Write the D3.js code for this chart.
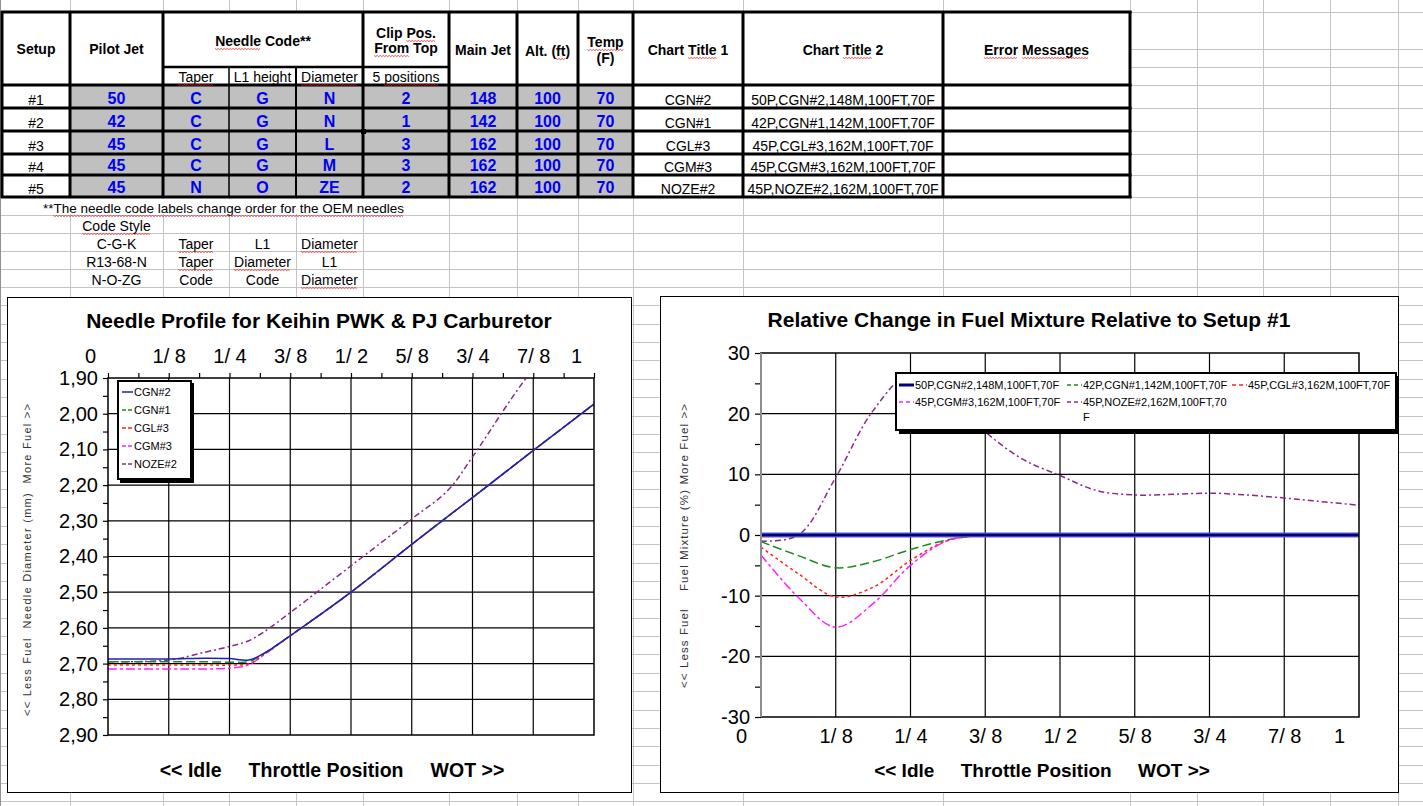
<!DOCTYPE html>
<html>
<head>
<meta charset="utf-8">
<script src="https://cdn.jsdelivr.net/npm/d3@7"></script>
<style>
  body { margin: 0; background: #fff; }
  svg text { font-family: "Liberation Sans", Arial, sans-serif; }
</style>
</head>
<body>
<svg id="sheet" width="1423" height="806"></svg>
<script>
// ---- table data ----
var setups = ["#1", "#2", "#3", "#4", "#5"];
var pilotJet = [50, 42, 45, 45, 45];
var taper = ["C", "C", "C", "C", "N"];
var l1Height = ["G", "G", "G", "G", "O"];
var diameter = ["N", "N", "L", "M", "ZE"];
var clipPos = [2, 1, 3, 3, 2];
var mainJet = [148, 142, 162, 162, 162];
var altFt = [100, 100, 100, 100, 100];
var tempF = [70, 70, 70, 70, 70];
var chartTitle1 = ["CGN#2", "CGN#1", "CGL#3", "CGM#3", "NOZE#2"];
var chartTitle2 = ["50P,CGN#2,148M,100FT,70F", "42P,CGN#1,142M,100FT,70F", "45P,CGL#3,162M,100FT,70F",
                   "45P,CGM#3,162M,100FT,70F", "45P,NOZE#2,162M,100FT,70F"];
var codeStyles = [["C-G-K", "Taper", "L1", "Diameter"],
                  ["R13-68-N", "Taper", "Diameter", "L1"],
                  ["N-O-ZG", "Code", "Code", "Diameter"]];

// ---- chart data ----
var throttleLabels = ["0", "1/ 8", "1/ 4", "3/ 8", "1/ 2", "5/ 8", "3/ 4", "7/ 8", "1"];
var needleX    = [0, 0.125, 0.2, 0.25, 0.29, 0.32, 0.375, 0.5, 0.625, 0.7, 0.75, 0.875, 1];
var needleCGN2 = [2.687, 2.687, 2.685, 2.686, 2.690, 2.672, 2.622, 2.50, 2.366, 2.287, 2.235, 2.103, 1.973];
var needleCGN1 = [2.695, 2.695, 2.695, 2.696, 2.694, 2.672, 2.622, 2.50, 2.366, 2.287, 2.235, 2.103, 1.973];
var needleCGL3 = [2.704, 2.704, 2.704, 2.704, 2.700, 2.675, 2.622, 2.50, 2.366, 2.287, 2.235, 2.103, 1.973];
var needleCGM3 = [2.715, 2.715, 2.715, 2.713, 2.703, 2.676, 2.622, 2.50, 2.366, 2.287, 2.235, 2.103, 1.973];
var needleNOZE2= [2.695, 2.690, 2.668, 2.652, 2.636, 2.612, 2.557, 2.426, 2.295, 2.214, 2.121, 1.875, 1.70];

var mixX     = [0, 1/16, 1/8, 3/16, 1/4, 5/16, 3/8, 7/16, 1/2, 9/16, 5/8, 11/16, 3/4, 13/16, 7/8, 15/16, 1];
var mixCGN2  = [0, 0, 0, 0, 0, 0, 0, 0, 0, 0, 0, 0, 0, 0, 0, 0, 0];
var mixCGN1  = [-1.1, -3.4, -5.4, -4.4, -2.4, -0.8, 0, 0, 0, 0, 0, 0, 0, 0, 0, 0, 0];
var mixCGL3  = [-2.0, -6.4, -10.2, -8.6, -4.2, -0.9, 0, 0, 0, 0, 0, 0, 0, 0, 0, 0, 0];
var mixCGM3  = [-3.3, -10.3, -15.2, -11.3, -5.0, -0.9, 0, 0, 0, 0, 0, 0, 0, 0, 0, 0, 0];
var mixNOZE2 = [-1.0, 0.0, 9.5, 20.5, 26.5, 23, 17, 12.5, 9.8, 7.3, 6.6, 6.7, 6.9, 6.6, 6.1, 5.5, 4.9];

var sheet = d3.select("#sheet");

// ---- spreadsheet grid ----
var colLines = [70, 163, 229, 296, 363, 449, 517, 578, 633, 743, 943, 1130, 1197, 1263, 1330, 1398];
var rowLines = [12, 49, 67, 85, 108, 131, 154, 175, 197, 215, 233, 251, 269, 287].concat(d3.range(287 + 18.37, 806, 18.37));

var grid = sheet.append("g").attr("stroke", "#c4c4c4").attr("stroke-width", 1);
grid.selectAll(".gc").data(colLines).enter().append("line")
    .attr("x1", function(d) { return d + 0.5; }).attr("x2", function(d) { return d + 0.5; })
    .attr("y1", 0).attr("y2", 806);
grid.selectAll(".gr").data(rowLines).enter().append("line")
    .attr("y1", function(d) { return Math.round(d) + 0.5; }).attr("y2", function(d) { return Math.round(d) + 0.5; })
    .attr("x1", 0).attr("x2", 1423);
sheet.append("line").attr("x1", 0.5).attr("x2", 0.5).attr("y1", 0).attr("y2", 806).attr("stroke", "#909090");

// ---- table ----
var tcols = [2, 70, 163, 229, 296, 363, 449, 517, 578, 633, 743, 943, 1130];
var trows = [85, 108, 131, 154, 175, 197];
function cx(c) { return (tcols[c] + tcols[c + 1]) / 2; }

var table = sheet.append("g");
table.append("rect").attr("x", 2).attr("y", 12).attr("width", 1128).attr("height", 185).attr("fill", "#fff");
// cover the footnote row so its text overflows the cells like in the sheet
sheet.append("rect").attr("x", 2).attr("y", 199).attr("width", 446).attr("height", 15).attr("fill", "#fff");

var squiggleWords = [];
function txt(g, s, x, y, opt) {
    opt = opt || {};
    var t = g.append("text").attr("x", x).attr("y", y)
        .attr("text-anchor", opt.anchor || "middle")
        .attr("font-size", opt.size || 14)
        .attr("font-weight", opt.bold ? "bold" : "normal")
        .attr("fill", opt.color || "#000")
        .text(s);
    if (opt.sq) opt.sq.forEach(function(w) { squiggleWords.push([t, w]); });
    return t;
}

// header
txt(table, "Setup", cx(0), 54, {bold: true});
txt(table, "Pilot Jet", cx(1), 54, {bold: true});
txt(table, "Needle Code**", (tcols[2] + tcols[5]) / 2, 46, {bold: true, sq: ["Needle"]});
txt(table, "Clip Pos.", cx(5), 38, {bold: true, sq: ["Pos."]});
txt(table, "From Top", cx(5), 53, {bold: true, sq: ["From"]});
txt(table, "Main Jet", cx(6), 55, {bold: true});
txt(table, "Alt. (ft)", cx(7), 56, {bold: true, sq: ["ft"]});
txt(table, "Temp", cx(8), 47, {bold: true, sq: ["Temp"]});
txt(table, "(F)", cx(8), 63, {bold: true});
txt(table, "Chart Title 1", cx(9), 55, {bold: true, sq: ["Title"]});
txt(table, "Chart Title 2", cx(10), 55, {bold: true, sq: ["Title"]});
txt(table, "Error Messages", cx(11), 55, {bold: true, sq: ["Error", "Messages"]});
txt(table, "Taper", cx(2), 82, {sq: ["Taper"]});
txt(table, "L1 height", cx(3), 82);
txt(table, "Diameter", cx(4), 82, {sq: ["Diameter"]});
txt(table, "5 positions", cx(5), 82, {sq: ["positions"]});

// data rows
var rowValues = [pilotJet, taper, l1Height, diameter, clipPos, mainJet, altFt, tempF];
setups.forEach(function(s, i) {
    var y0 = trows[i], y1 = trows[i + 1];
    table.append("rect").attr("x", tcols[1]).attr("y", y0).attr("width", tcols[9] - tcols[1])
        .attr("height", y1 - y0).attr("fill", "#c0c0c0");
    txt(table, s, cx(0), y1 - 3);
    rowValues.forEach(function(arr, c) {
        txt(table, arr[i], cx(c + 1), y1 - 4, {bold: true, size: 16, color: "#0000f0"});
    });
    txt(table, chartTitle1[i], cx(9), y1 - 3);
    txt(table, chartTitle2[i], cx(10), y1 - 3);
});

// borders
var thick = table.append("g").attr("stroke", "#000");
[12, 85, 108, 131, 154, 175, 197].forEach(function(y) {
    thick.append("line").attr("x1", 1).attr("x2", 1131.5).attr("y1", y).attr("y2", y).attr("stroke-width", 3);
});
thick.append("line").attr("x1", 163).attr("x2", 449).attr("y1", 67).attr("y2", 67).attr("stroke-width", 2.5);
[2, 70, 163, 363, 449, 517, 578, 633, 743, 943, 1130].forEach(function(x) {
    thick.append("line").attr("x1", x).attr("x2", x).attr("y1", 11).attr("y2", 198).attr("stroke-width", 3);
});
thick.append("line").attr("x1", 229).attr("x2", 229).attr("y1", 67).attr("y2", 197).attr("stroke-width", 1.5);
thick.append("line").attr("x1", 296).attr("x2", 296).attr("y1", 67).attr("y2", 197).attr("stroke-width", 2);
table.append("rect").attr("x", 361).attr("y", 129).attr("width", 5).attr("height", 5).attr("fill", "#000");

// footnote & code styles
txt(sheet, "**The needle code labels change order for the OEM needles", 43, 213,
    {anchor: "start", size: 13.5, sq: ["The needle code labels change order for the OEM needles"]});
txt(sheet, "Code Style", cx(1), 231, {sq: ["Code Style"]});
codeStyles.forEach(function(r, i) {
    r.forEach(function(s, c) {
        txt(sheet, s, cx(c + 1), 249 + i * 18, {sq: (s === "Taper" || s === "Diameter") ? [s] : []});
    });
});

// ---- shared helpers for charts ----
function chartBox(x, y, w, h) {
    sheet.append("rect").attr("x", x + 0.5).attr("y", y + 0.5).attr("width", w).attr("height", h)
        .attr("fill", "#fff").attr("stroke", "#000").attr("stroke-width", 1);
}
function styleAxis(g, size) {
    g.select(".domain").remove();
    g.selectAll(".tick line").attr("stroke", "#000").attr("stroke-width", 1.2);
    g.selectAll(".tick text").attr("font-size", size).attr("fill", "#000")
        .attr("font-family", "\"Liberation Sans\", Arial, sans-serif");
}
var nb = "\u00a0";
var throttleTitle = "<<" + nb + "Idle" + nb.repeat(5) + "Throttle" + nb + "Position" + nb.repeat(5) + "WOT" + nb + ">>";

// ================= left chart: needle profile =================
chartBox(7, 297, 624, 495);
var nx = d3.scaleLinear().domain([0, 1]).range([108, 594]);
var ny = d3.scaleLinear().domain([1.9, 2.9]).range([378, 735]);
var left = sheet.append("g");

left.append("g").selectAll("line").data(d3.range(1, 8).map(function(i) { return i / 8; })).enter().append("line")
    .attr("x1", nx).attr("x2", nx).attr("y1", ny(1.9)).attr("y2", ny(2.9))
    .attr("stroke", "#000").attr("stroke-width", 1.2);
left.append("g").selectAll("line").data(d3.range(1, 10).map(function(i) { return 1.9 + i / 10; })).enter().append("line")
    .attr("y1", ny).attr("y2", ny).attr("x1", nx(0)).attr("x2", nx(1))
    .attr("stroke", "#000").attr("stroke-width", 1.2);

var axT = left.append("g").attr("transform", "translate(0," + ny(1.9) + ")")
    .call(d3.axisTop(nx).tickValues(d3.range(0, 17).map(function(i) { return i / 16; }))
        .tickSize(5).tickPadding(10)
        .tickFormat(function(d, i) { return i % 2 === 0 ? throttleLabels[i / 2] : ""; }));
styleAxis(axT, 20);
axT.selectAll(".tick text").filter(function(d) { return d === 0 || d === 1; }).attr("dx", -18);

var axL = left.append("g").attr("transform", "translate(" + nx(0) + ",0)")
    .call(d3.axisLeft(ny).tickValues(d3.range(0, 21).map(function(i) { return 1.9 + i * 0.05; }))
        .tickSize(5).tickPadding(5)
        .tickFormat(function(d, i) { return i % 2 === 0 ? d3.format(".2f")(d).replace(".", ",") : ""; }));
styleAxis(axL, 20);

var clip = sheet.append("clipPath").attr("id", "needleClip");
clip.append("rect").attr("x", nx(0)).attr("y", ny(1.9)).attr("width", nx(1) - nx(0)).attr("height", ny(2.9) - ny(1.9));

var needleSeries = [
    {name: chartTitle1[0], values: needleCGN2, color: "#2020b8", dash: null},
    {name: chartTitle1[1], values: needleCGN1, color: "#1a8a1a", dash: "9,4"},
    {name: chartTitle1[2], values: needleCGL3, color: "#ff2020", dash: "3,3"},
    {name: chartTitle1[3], values: needleCGM3, color: "#ff20ff", dash: "9,3,3,3"},
    {name: chartTitle1[4], values: needleNOZE2, color: "#862c86", dash: "6,3,2,3"}
];
var needleLine = d3.line()
    .x(function(d) { return nx(d[0]); }).y(function(d) { return ny(d[1]); })
    .curve(d3.curveCatmullRom.alpha(0.5));
needleSeries.slice().reverse().forEach(function(s) {
    left.append("path").attr("clip-path", "url(#needleClip)")
        .attr("d", needleLine(d3.zip(needleX, s.values)))
        .attr("fill", "none").attr("stroke", s.color).attr("stroke-width", 1.5)
        .attr("stroke-dasharray", s.dash);
});
left.append("rect").attr("x", nx(0)).attr("y", ny(1.9)).attr("width", nx(1) - nx(0)).attr("height", ny(2.9) - ny(1.9))
    .attr("fill", "none").attr("stroke", "#000").attr("stroke-width", 1.5);

// left legend
var lg = left.append("g");
lg.append("rect").attr("x", 120).attr("y", 383).attr("width", 74).attr("height", 100).attr("fill", "#000");
lg.append("rect").attr("x", 118).attr("y", 381).attr("width", 73).attr("height", 98)
    .attr("fill", "#fff").attr("stroke", "#000").attr("stroke-width", 2);
needleSeries.forEach(function(s, i) {
    var y = 392 + i * 18;
    lg.append("line").attr("x1", 122).attr("x2", 133).attr("y1", y).attr("y2", y)
        .attr("stroke", s.color).attr("stroke-width", 1.5).attr("stroke-dasharray", s.dash ? "4,2" : null);
    txt(lg, s.name, 134, y + 4, {anchor: "start", size: 11});
});

// titles
txt(left, "Needle Profile for Keihin PWK & PJ Carburetor", 319, 328, {bold: true, size: 21});
txt(left, throttleTitle, 332, 777, {bold: true, size: 19.5});
left.append("text").attr("transform", "translate(31,560) rotate(-90)")
    .attr("text-anchor", "middle").attr("font-size", 11).attr("fill", "#333")
    .attr("textLength", 312).attr("lengthAdjust", "spacing")
    .text("<<" + nb + "Less" + nb + "Fuel" + nb + nb + "Needle" + nb + "Diameter" + nb + "(mm)" + nb + nb + "More" + nb + "Fuel" + nb + ">>");

// ================= right chart: relative change =================
chartBox(660, 296, 738, 496);
var mx = d3.scaleLinear().domain([0, 1]).range([761, 1359]);
var my = d3.scaleLinear().domain([-30, 30]).range([717, 353]);
var right = sheet.append("g");

right.append("g").selectAll("line").data(d3.range(1, 8).map(function(i) { return i / 8; })).enter().append("line")
    .attr("x1", mx).attr("x2", mx).attr("y1", my(30)).attr("y2", my(-30))
    .attr("stroke", "#000").attr("stroke-width", 1.2);
right.append("g").selectAll("line").data([20, 10, 0, -10, -20]).enter().append("line")
    .attr("y1", my).attr("y2", my).attr("x1", mx(0)).attr("x2", mx(1))
    .attr("stroke", "#000").attr("stroke-width", 1.2);

var axB = right.append("g").attr("transform", "translate(0," + my(-30) + ")")
    .call(d3.axisBottom(mx).tickValues(d3.range(0, 9).map(function(i) { return i / 8; }))
        .tickSize(0).tickPadding(12)
        .tickFormat(function(d, i) { return throttleLabels[i]; }));
styleAxis(axB, 20);
axB.selectAll(".tick text").filter(function(d) { return d === 0 || d === 1; }).attr("dx", -20);

var axR = right.append("g").attr("transform", "translate(" + mx(0) + ",0)")
    .call(d3.axisLeft(my).tickValues(d3.range(-30, 31, 5))
        .tickSize(6).tickPadding(5)
        .tickFormat(function(d) { return d % 10 === 0 ? d : ""; }));
styleAxis(axR, 20);

var mixSeries = [
    {name: chartTitle2[0], values: mixCGN2, color: "#000080", dash: null},
    {name: chartTitle2[1], values: mixCGN1, color: "#1a8a1a", dash: "9,4"},
    {name: chartTitle2[2], values: mixCGL3, color: "#ff2020", dash: "3,3"},
    {name: chartTitle2[3], values: mixCGM3, color: "#ff20ff", dash: "9,3,3,3"},
    {name: chartTitle2[4], values: mixNOZE2, color: "#862c86", dash: "6,3,2,3"}
];
var mixLine = d3.line()
    .x(function(d) { return mx(d[0]); }).y(function(d) { return my(d[1]); })
    .curve(d3.curveCatmullRom.alpha(0.5));
mixSeries.slice(1).forEach(function(s) {
    right.append("path").attr("d", mixLine(d3.zip(mixX, s.values)))
        .attr("fill", "none").attr("stroke", s.color).attr("stroke-width", 1.5)
        .attr("stroke-dasharray", s.dash);
});
right.append("path").attr("d", mixLine(d3.zip(mixX, mixCGN2)))
    .attr("fill", "none").attr("stroke", "#5a5ad0").attr("stroke-width", 5);
right.append("path").attr("d", mixLine(d3.zip(mixX, mixCGN2)))
    .attr("fill", "none").attr("stroke", "#000080").attr("stroke-width", 2.5);

right.append("rect").attr("x", mx(0)).attr("y", my(30)).attr("width", mx(1) - mx(0)).attr("height", my(-30) - my(30))
    .attr("fill", "none").attr("stroke", "#000").attr("stroke-width", 1.5);
right.append("line").attr("x1", mx(0)).attr("x2", mx(0)).attr("y1", my(30)).attr("y2", my(-30))
    .attr("stroke", "#8c8c8c").attr("stroke-width", 2);

// right legend
var rg = right.append("g");
rg.append("rect").attr("x", 899).attr("y", 376).attr("width", 500).attr("height", 58).attr("fill", "#000");
rg.append("rect").attr("x", 896).attr("y", 373).attr("width", 500).attr("height", 57)
    .attr("fill", "#fff").attr("stroke", "#000").attr("stroke-width", 2);
var legendCols = [899, 1067, 1232];
mixSeries.forEach(function(s, i) {
    var lx = legendCols[i % 3], y = 385 + Math.floor(i / 3) * 17;
    rg.append("line").attr("x1", lx).attr("x2", lx + 15).attr("y1", y).attr("y2", y)
        .attr("stroke", s.color).attr("stroke-width", i === 0 ? 3 : 1.5)
        .attr("stroke-dasharray", s.dash ? "4,3" : null);
    var label = s.name;
    if (i === 4) {
        txt(rg, label.slice(0, -1), lx + 16, y + 4, {anchor: "start", size: 11});
        txt(rg, label.slice(-1), lx + 16, y + 19, {anchor: "start", size: 11});
    } else {
        txt(rg, label, lx + 16, y + 4, {anchor: "start", size: 11});
    }
});

txt(right, "Relative Change in Fuel Mixture Relative to Setup #1", 1029, 327, {bold: true, size: 21});
txt(right, throttleTitle, 1042, 777, {bold: true, size: 19});
right.append("text").attr("transform", "translate(688,546) rotate(-90)")
    .attr("text-anchor", "middle").attr("font-size", 11.5).attr("fill", "#333")
    .attr("textLength", 284).attr("lengthAdjust", "spacing")
    .text("<<" + nb + "Less" + nb + "Fuel" + nb.repeat(4) + "Fuel" + nb + "Mixture" + nb + "(%)" + nb + "More" + nb + "Fuel" + nb + ">>");

// ---- spell-check squiggles ----
squiggleWords.forEach(function(p) {
    var node = p[0].node(), s = node.textContent, i = s.indexOf(p[1]);
    if (i < 0) return;
    var a = node.getStartPositionOfChar(i), b = node.getEndPositionOfChar(i + p[1].length - 1);
    var pts = [];
    for (var x = a.x, k = 0; x <= b.x; x += 1.5, k++) pts.push([x, a.y + 2.5 + (k % 2 ? 1 : 0)]);
    sheet.append("path").attr("d", d3.line()(pts)).attr("fill", "none")
        .attr("stroke", "#e02020").attr("stroke-width", 0.8);
});
</script>
</body>
</html>
